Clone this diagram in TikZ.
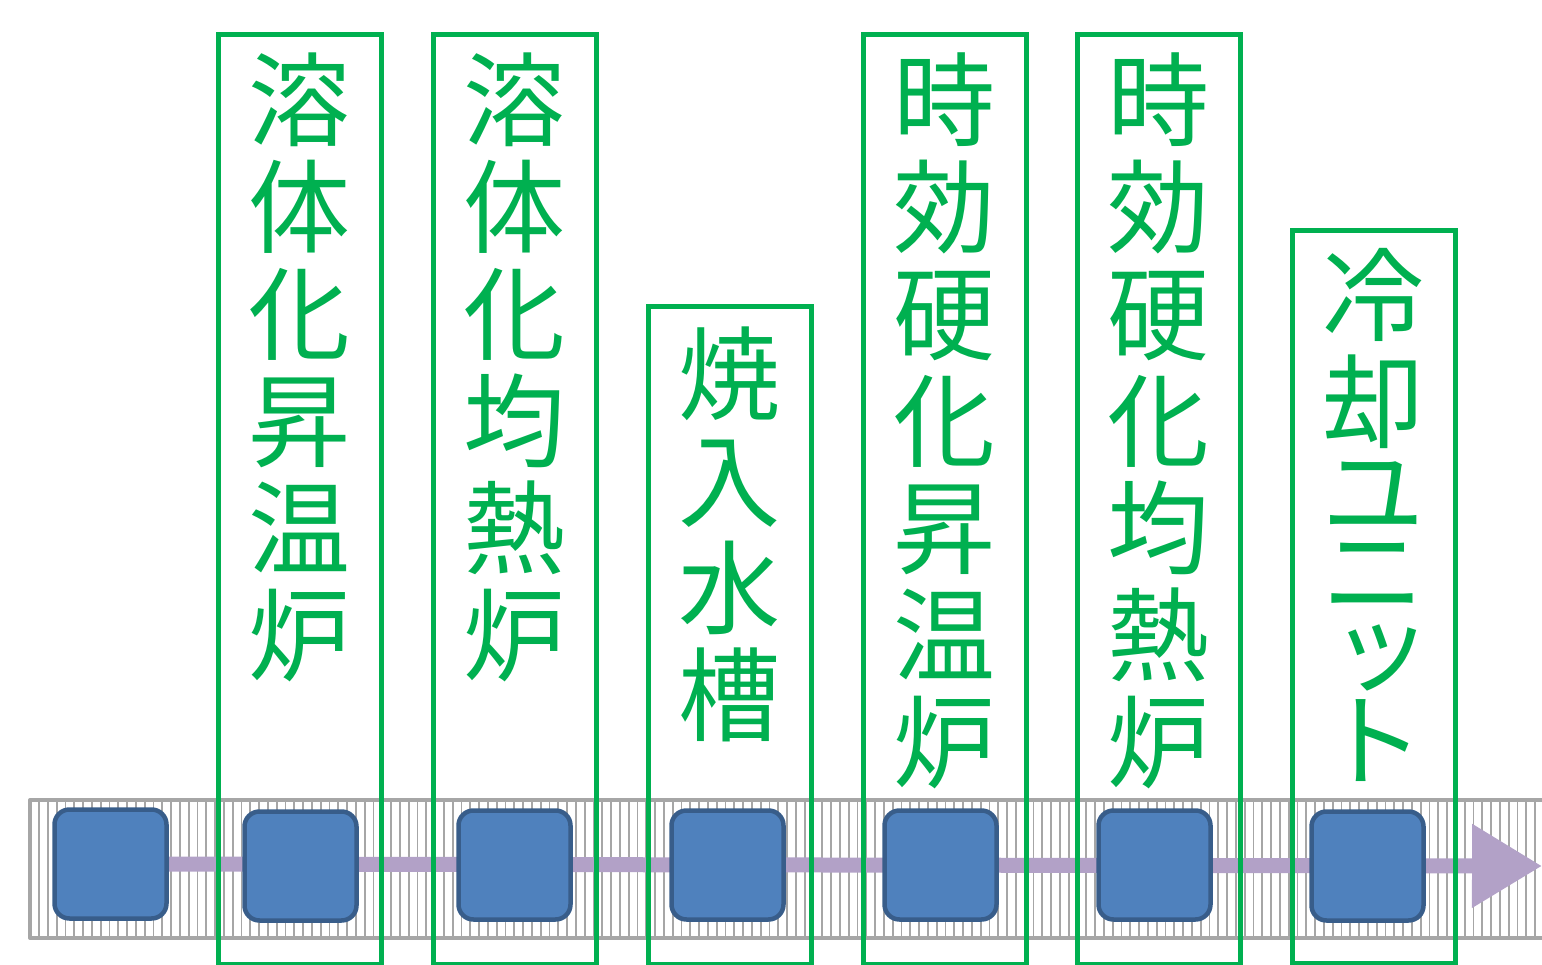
\documentclass[tikz,border=0pt]{standalone}
\usepackage{fontspec}
\newfontfamily\cjk{Noto Sans CJK JP}
\usetikzlibrary{arrows.meta}
\definecolor{grn}{HTML}{00B050}
\definecolor{bluefill}{HTML}{4F81BD}
\definecolor{blueline}{HTML}{385D8A}
\definecolor{purp}{HTML}{B2A1C7}
\definecolor{beltgray}{HTML}{A6A6A6}
\pgfdeclarelayer{beltlayer}
\pgfdeclarelayer{flowlayer}
\pgfsetlayers{beltlayer,flowlayer,main}
\begin{document}
\begin{tikzpicture}[x=1pt,y=-1pt,
  greenbox/.style={draw=grn,line width=5pt,minimum width=163pt,inner sep=0pt,anchor=north},
  vlabel/.style={text=grn,font=\cjk\fontsize{102}{107}\selectfont,align=center,inner sep=0pt,anchor=north},
  piece/.style={draw=blueline,fill=bluefill,line width=4.5pt,rounded corners=15pt,minimum width=112pt,minimum height=109pt,inner sep=0pt},
  flow/.style={draw=purp,line width=15pt,-{Triangle[length=70pt,width=80pt]}}]
\path[use as bounding box] (0,0) rectangle (1542,965);
% belt
\begin{pgfonlayer}{beltlayer}
\foreach \i in {0,...,171}{
  \draw[beltgray,line width=1.8pt] ({39+8.8*\i},802) -- ({39+8.8*\i},936);
}
\draw[beltgray,line width=4pt,line join=round] (1545,800) -- (30,800) -- (30,938) -- (1545,938);
\end{pgfonlayer}
% pieces
\node[piece] (b1) at (110.5,864) {};
\node[piece] (b2) at (300.5,866) {};
\node[piece] (b3) at (514.5,865) {};
\node[piece] (b4) at (727.5,865) {};
\node[piece] (b5) at (940.5,865) {};
\node[piece] (b6) at (1154.5,865) {};
\node[piece] (b7) at (1367.5,866) {};
\coordinate (end) at (1542,866);
\begin{pgfonlayer}{flowlayer}
\path[flow] (b1.center) -- (end);
\end{pgfonlayer}
% green boxes
\node[greenbox,minimum height=930pt] (g1) at (299.5,32) {};
\node[greenbox,minimum height=930pt] (g2) at (514.5,32) {};
\node[greenbox,minimum height=658pt] (g3) at (729.5,304) {};
\node[greenbox,minimum height=930pt] (g4) at (944.5,32) {};
\node[greenbox,minimum height=930pt] (g5) at (1158.5,32) {};
\node[greenbox,minimum height=733pt] (g6) at (1373.5,228) {};
% labels
\node[vlabel] (t1) at ([yshift=-21pt]g1.north) {溶\\体\\化\\昇\\温\\炉};
\node[vlabel] (t2) at ([yshift=-21pt]g2.north) {溶\\体\\化\\均\\熱\\炉};
\node[vlabel] (t3) at ([yshift=-23pt]g3.north) {焼\\入\\水\\槽};
\node[vlabel] (t4) at ([yshift=-21pt]g4.north) {時\\効\\硬\\化\\昇\\温\\炉};
\node[vlabel] (t5) at ([yshift=-21pt]g5.north) {時\\効\\硬\\化\\均\\熱\\炉};
\node[vlabel] (t6) at ([yshift=-20pt]g6.north) {冷\\却\\[-17pt]ユ\\[-28pt]ニ\\[-33pt]\hspace*{16pt}ッ\\[-12pt]ト};
\end{tikzpicture}
\end{document}
